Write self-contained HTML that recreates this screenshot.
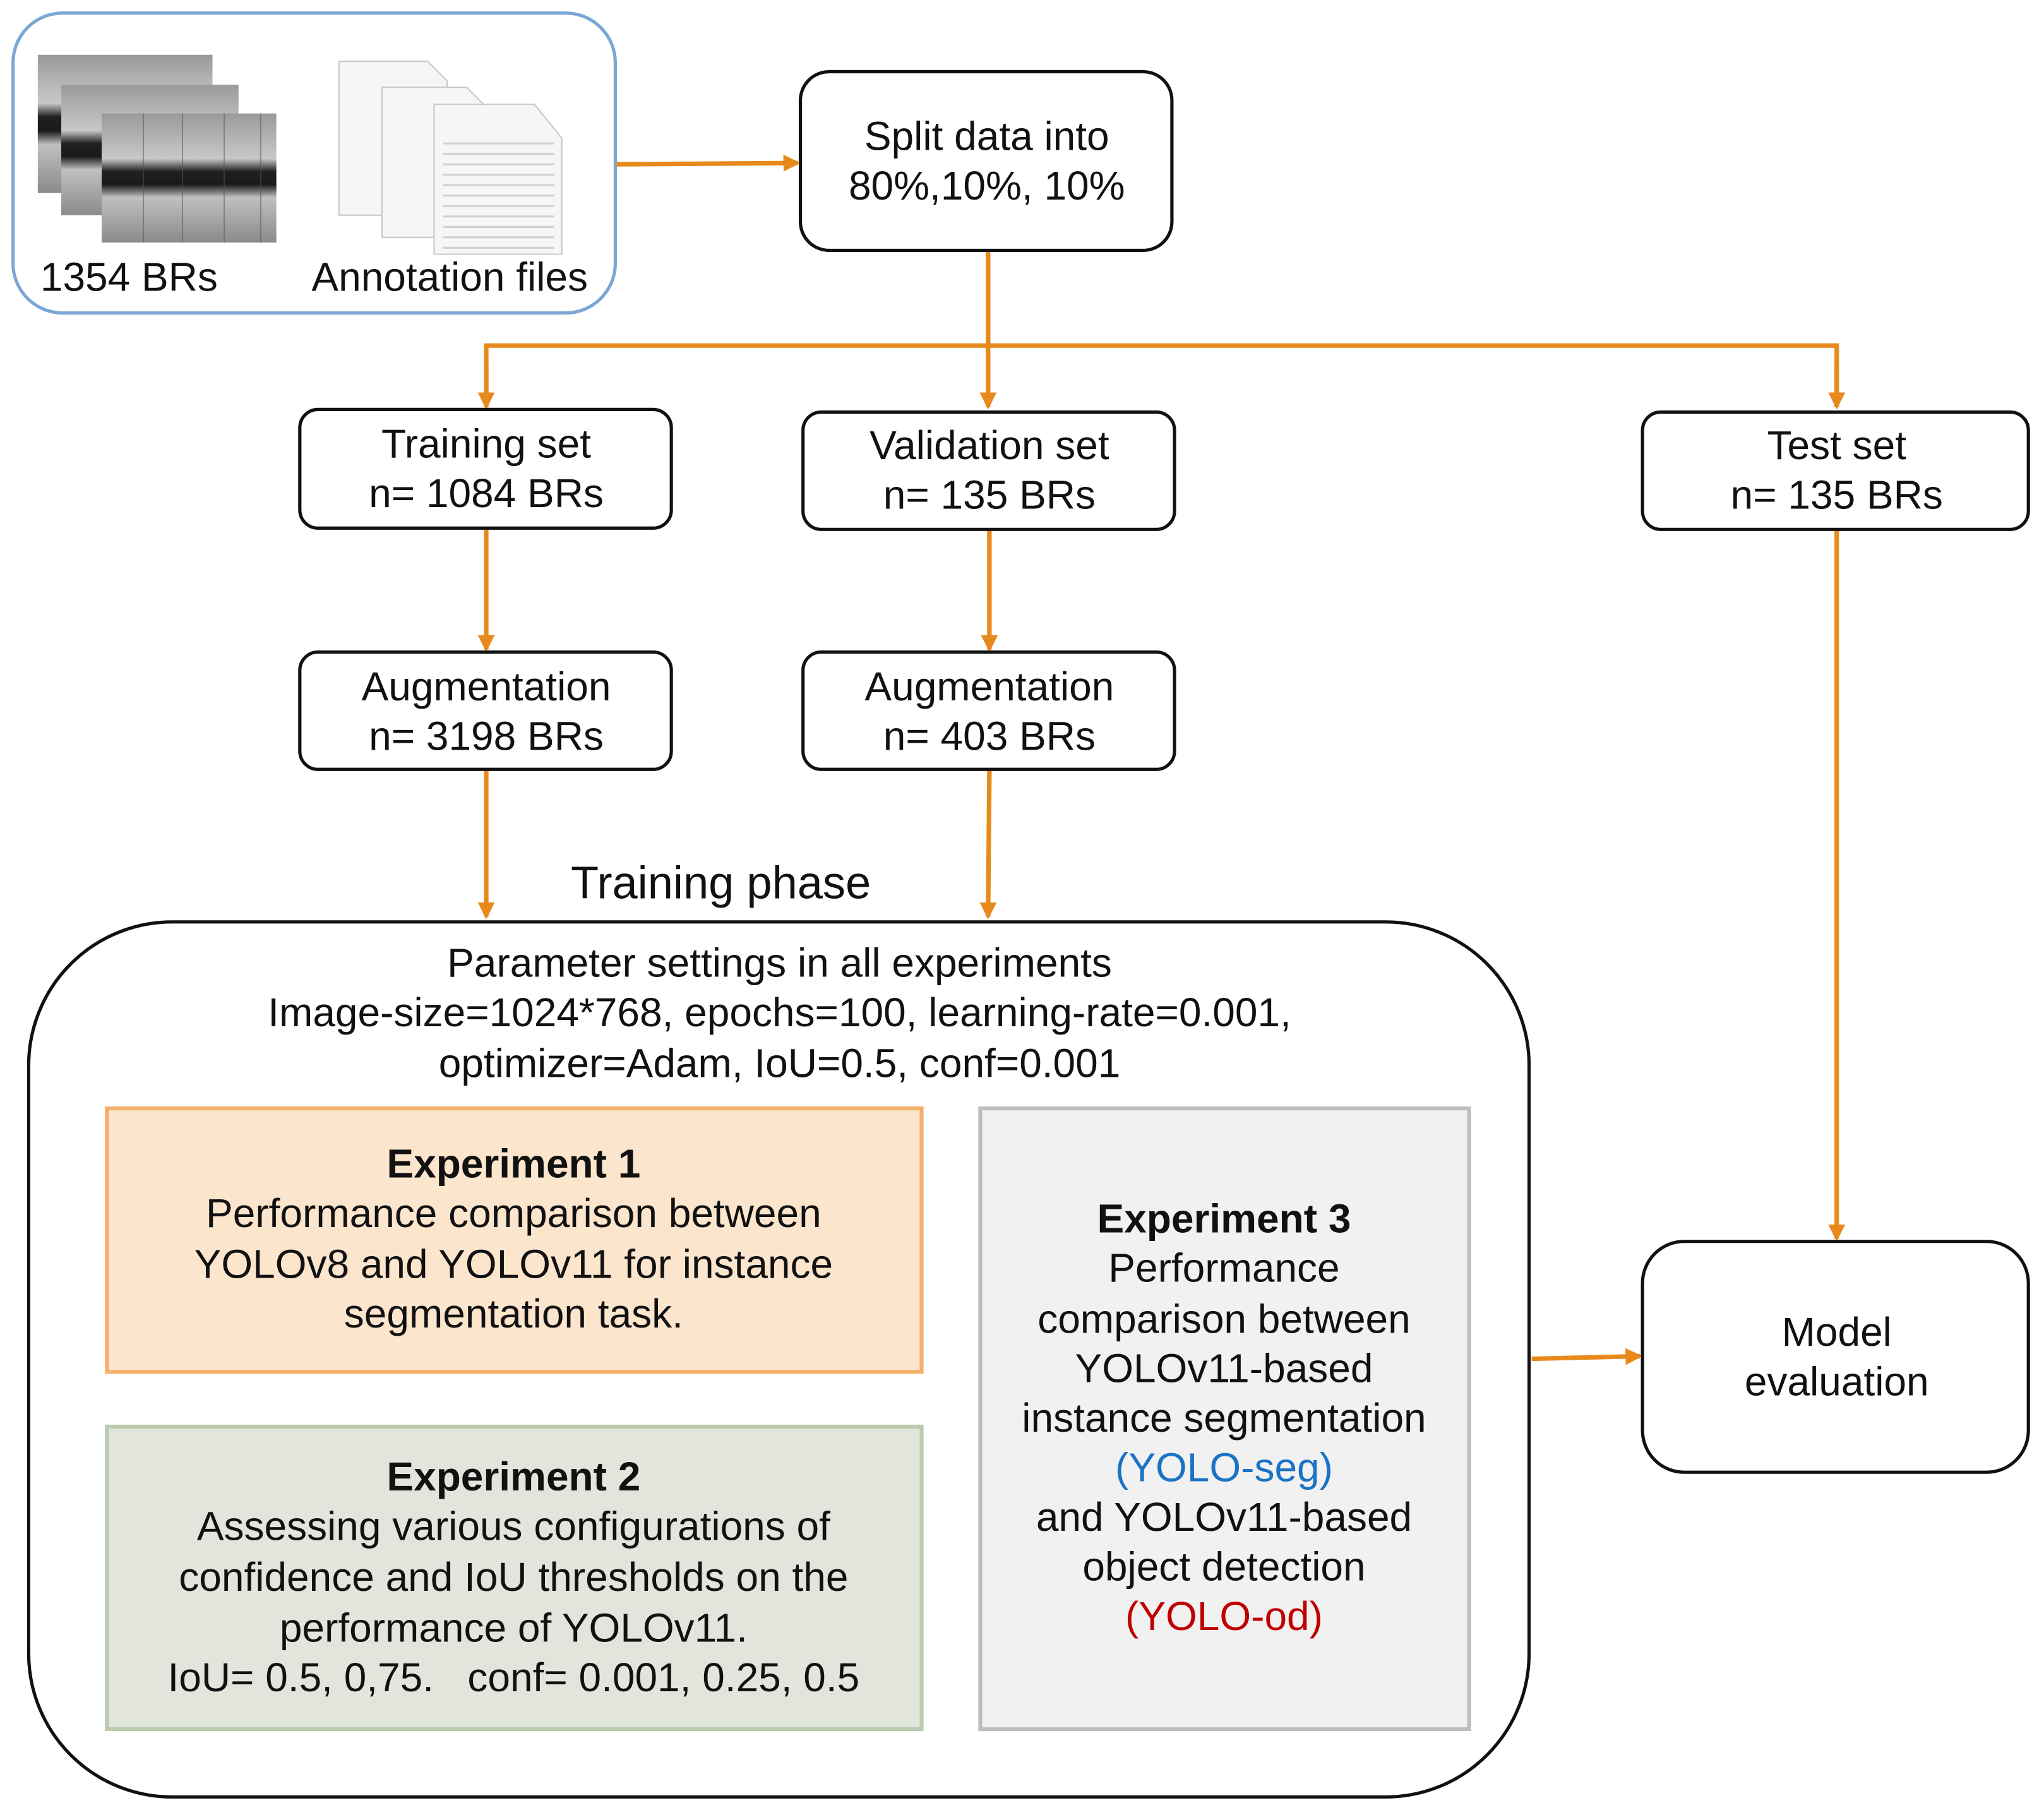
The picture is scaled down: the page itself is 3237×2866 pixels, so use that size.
<!DOCTYPE html>
<html><head><meta charset="utf-8"><style>
html,body{margin:0;padding:0;background:#fff}
svg{display:block}
text{font-family:"Liberation Sans",Arial,sans-serif;fill:#111}
</style></head><body>
<svg width="3237" height="2866" viewBox="0 0 1568 1388" preserveAspectRatio="none" xmlns="http://www.w3.org/2000/svg">
<defs>
<linearGradient id="xr" x1="0" y1="0" x2="0" y2="1">
<stop offset="0" stop-color="#9a9a9a"/><stop offset="0.35" stop-color="#c8c8c8"/><stop offset="0.45" stop-color="#202020"/><stop offset="0.55" stop-color="#1a1a1a"/><stop offset="0.65" stop-color="#c0c0c0"/><stop offset="1" stop-color="#8a8a8a"/>
</linearGradient>
<marker id="ah" markerWidth="13" markerHeight="13" refX="11" refY="6.5" orient="auto" markerUnits="userSpaceOnUse"><path d="M0,0 L13,6.5 L0,13 z" fill="#e8891c"/></marker>
</defs>

<rect x="10" y="10" width="462" height="230" rx="38" fill="#fff" stroke="#7aa7d4" stroke-width="2.5"/>
<rect x="29" y="42" width="134" height="106" fill="url(#xr)"/>
<rect x="47" y="65" width="136" height="100" fill="url(#xr)"/>
<rect x="78" y="87" width="134" height="99" fill="url(#xr)"/>
<g stroke="#555" stroke-width="1" opacity="0.5">
<line x1="110" y1="87" x2="110" y2="186"/><line x1="140" y1="87" x2="140" y2="186"/><line x1="172" y1="87" x2="172" y2="186"/><line x1="200" y1="87" x2="200" y2="186"/>
</g>
<g fill="#f6f6f6" stroke="#c8c8c8" stroke-width="1">
<path d="M260,47 L328,47 L343,62 L343,165 L260,165 z"/>
<path d="M293,67 L358,67 L372,81 L372,182 L293,182 z"/>
<path d="M333,80 L410,80 L431,106 L431,195 L333,195 z"/>
</g>
<g stroke="#d0d0d0" stroke-width="1.5">
<line x1="340" y1="110" x2="425" y2="110"/><line x1="340" y1="118" x2="425" y2="118"/><line x1="340" y1="126" x2="425" y2="126"/><line x1="340" y1="134" x2="425" y2="134"/><line x1="340" y1="142" x2="425" y2="142"/><line x1="340" y1="150" x2="425" y2="150"/><line x1="340" y1="158" x2="425" y2="158"/><line x1="340" y1="166" x2="425" y2="166"/><line x1="340" y1="174" x2="425" y2="174"/><line x1="340" y1="182" x2="425" y2="182"/><line x1="340" y1="190" x2="425" y2="190"/>
</g>
<text x="99" y="223" font-size="31" text-anchor="middle">1354 BRs</text>
<text x="345" y="223" font-size="31" text-anchor="middle">Annotation files</text>

<g stroke="#e8891c" stroke-width="3.5" fill="none">
<line x1="473" y1="126" x2="612" y2="125" marker-end="url(#ah)"/>
<line x1="758" y1="192" x2="758" y2="312" marker-end="url(#ah)"/>
<polyline points="373,312 373,265 1409,265 1409,312" />
<line x1="373" y1="280" x2="373" y2="312" marker-end="url(#ah)"/>
<line x1="1409" y1="280" x2="1409" y2="312" marker-end="url(#ah)"/>
<line x1="373" y1="405" x2="373" y2="498" marker-end="url(#ah)"/>
<line x1="759" y1="406" x2="759" y2="498" marker-end="url(#ah)"/>
<line x1="373" y1="590" x2="373" y2="703" marker-end="url(#ah)"/>
<line x1="759" y1="590" x2="758" y2="703" marker-end="url(#ah)"/>
<line x1="1409" y1="406" x2="1409" y2="950" marker-end="url(#ah)"/>
<line x1="1175" y1="1042" x2="1258" y2="1040" marker-end="url(#ah)"/>
</g>

<g fill="#fff" stroke="#111" stroke-width="2.5">
<rect x="614" y="55" width="285" height="137" rx="22"/>
<rect x="230" y="314" width="285" height="91" rx="14"/>
<rect x="616" y="316" width="285" height="90" rx="14"/>
<rect x="1260" y="316" width="296" height="90" rx="14"/>
<rect x="230" y="500" width="285" height="90" rx="14"/>
<rect x="616" y="500" width="285" height="90" rx="14"/>
<rect x="1260" y="952" width="296" height="177" rx="32"/>
<rect x="22" y="707" width="1151" height="671" rx="110"/>
</g>
<g font-size="31" text-anchor="middle">
<text x="757" y="115">Split data into</text>
<text x="757" y="153">80%,10%, 10%</text>
<text x="373" y="351">Training set</text>
<text x="373" y="389">n= 1084 BRs</text>
<text x="759" y="352">Validation set</text>
<text x="759" y="390">n= 135 BRs</text>
<text x="1409" y="352">Test set</text>
<text x="1409" y="390">n= 135 BRs</text>
<text x="373" y="537">Augmentation</text>
<text x="373" y="575">n= 3198 BRs</text>
<text x="759" y="537">Augmentation</text>
<text x="759" y="575">n= 403 BRs</text>
<text x="1409" y="1032">Model</text>
<text x="1409" y="1070">evaluation</text>
<text x="553" y="689" font-size="35">Training phase</text>
<text x="598" y="749">Parameter settings in all experiments</text>
<text x="598" y="787">Image-size=1024*768, epochs=100, learning-rate=0.001,</text>
<text x="598" y="826">optimizer=Adam, IoU=0.5, conf=0.001</text>
</g>

<rect x="82" y="850" width="625" height="202" fill="#fbe5cd" stroke="#f4b06a" stroke-width="3"/>
<rect x="82" y="1094" width="625" height="232" fill="#e2e5dc" stroke="#bccab0" stroke-width="3"/>
<rect x="752" y="850" width="375" height="476" fill="#f1f1f1" stroke="#bdbdbd" stroke-width="3"/>

<g font-size="31" text-anchor="middle">
<text x="394" y="903" font-weight="bold">Experiment 1</text>
<text x="394" y="941">Performance comparison between</text>
<text x="394" y="980">YOLOv8 and YOLOv11 for instance</text>
<text x="394" y="1018">segmentation task.</text>
<text x="394" y="1143" font-weight="bold">Experiment 2</text>
<text x="394" y="1181">Assessing various configurations of</text>
<text x="394" y="1220">confidence and IoU thresholds on the</text>
<text x="394" y="1259">performance of YOLOv11.</text>
<text x="394" y="1297" xml:space="preserve">IoU= 0.5, 0,75.   conf= 0.001, 0.25, 0.5</text>
<text x="939" y="945" font-weight="bold">Experiment 3</text>
<text x="939" y="983">Performance</text>
<text x="939" y="1022">comparison between</text>
<text x="939" y="1060">YOLOv11-based</text>
<text x="939" y="1098">instance segmentation</text>
<text x="939" y="1136" style="fill:#1a73c4">(YOLO-seg)</text>
<text x="939" y="1174">and YOLOv11-based</text>
<text x="939" y="1212">object detection</text>
<text x="939" y="1250" style="fill:#c00000">(YOLO-od)</text>
</g>
</svg>
</body></html>
